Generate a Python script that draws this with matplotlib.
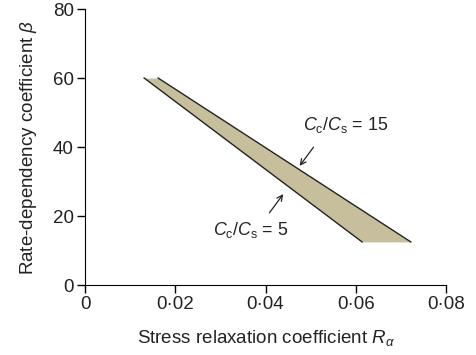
import numpy as np
import matplotlib
matplotlib.use("Agg")
import matplotlib.pyplot as plt
from matplotlib.ticker import FuncFormatter

plt.rcParams['font.family'] = ['Liberation Sans', 'DejaVu Sans']
plt.rcParams['mathtext.fontset'] = 'custom'
plt.rcParams['mathtext.rm'] = 'Liberation Sans'
plt.rcParams['mathtext.it'] = 'Liberation Sans:italic'
plt.rcParams['mathtext.bf'] = 'Liberation Sans:bold'

# band limits (beta vs R_alpha)
beta = [60, 12.5]
r_low = [0.0131, 0.0614]    # Cc/Cs = 5
r_high = [0.0162, 0.0722]   # Cc/Cs = 15

xticks = [0, 0.02, 0.04, 0.06, 0.08]
yticks = [0, 20, 40, 60, 80]

fig = plt.figure(figsize=(4.76, 3.55), dpi=100)
ax = fig.add_axes([0.1786, 0.197, 0.7584, 0.7776])

ax.fill_betweenx(beta, r_low, r_high, color='#c7bf9c', lw=0)
ax.plot(r_low, beta, color='#222222', lw=1)
ax.plot(r_high, beta, color='#222222', lw=1)

ax.annotate('', xy=(0.0472, 33.9), xytext=(0.0510, 40.6),
            arrowprops=dict(arrowstyle='->', color='#222222', lw=0.9))
ax.annotate('', xy=(0.0443, 27.0), xytext=(0.0405, 20.3),
            arrowprops=dict(arrowstyle='->', color='#222222', lw=0.9))
ax.text(0.0483, 46.4, r'$C_\mathrm{c}/C_\mathrm{s}$ = 15', fontsize=12.8,
        va='center', ha='left', color='#222222')
ax.text(0.0284, 15.9, r'$C_\mathrm{c}/C_\mathrm{s}$ = 5', fontsize=12.8,
        va='center', ha='left', color='#222222')

ax.set_xlim(0, 0.08)
ax.set_ylim(0, 80)
ax.set_xticks(xticks)
ax.set_yticks(yticks)
ax.xaxis.set_major_formatter(FuncFormatter(
    lambda v, p: '0' if v == 0 else ('%.2f' % v).replace('.', '\u00b7')))
ax.tick_params(labelsize=13.5, labelcolor='#222222', length=6, width=1, pad=2)
for s in ['top', 'right']:
    ax.spines[s].set_visible(False)

ax.set_xlabel(r'Stress relaxation coefficient $R_\alpha$', fontsize=13.5,
              color='#222222', labelpad=11)
ax.set_ylabel(r'Rate-dependency coefficient $\beta$', fontsize=13.5,
              color='#222222', labelpad=10)

fig.savefig('out.png', dpi=100)
